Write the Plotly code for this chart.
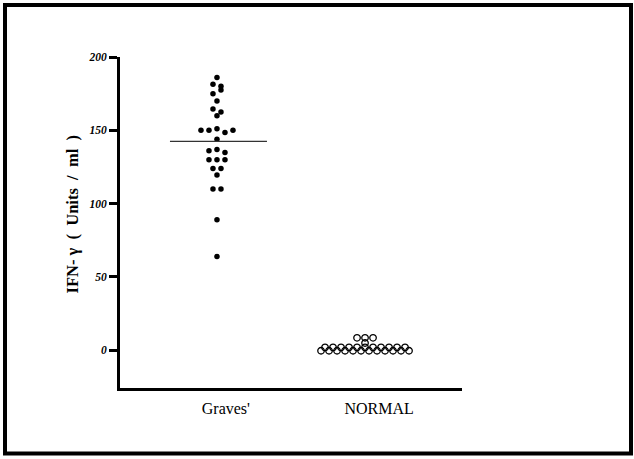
import plotly.graph_objects as go

# ---------------- data ----------------
groups = ["Graves'", "NORMAL"]
graves_values = [186,
                 181.5, 180,
                 175, 177.5,
                 170,
                 164.5, 162.5,
                 160,
                 150, 150, 151, 148.5, 150,
                 144,
                 136, 137, 134.8,
                 130, 130, 130,
                 124, 124,
                 119.5,
                 110, 110,
                 89,
                 64]
normal_values = [8.5, 8.5, 8.5,
                 5,
                 2.0, 2.0, 2.0, 2.0, 2.0, 2.0, 2.0, 2.0, 2.0, 2.0, 2.0,
                 -0.3, -0.3, -0.3, -0.3, -0.3, -0.3, -0.3, -0.3, -0.3, -0.3, -0.3, -0.3]
y_ticks = [0, 50, 100, 150, 200]
y_title = "IFN-\u00a0γ\u00a0\u00a0(\u00a0\u00a0Units\u00a0\u00a0/\u00a0\u00a0ml\u00a0\u00a0)"

# ---------------- layout geometry ----------------
W, H = 634, 459
ML, MR, MT, MB = 120, 172, 57, 71
PW = W - ML - MR
PH = H - MT - MB
x_range = [0.345, 2.655]
y_range = [-25.7, 200]
units_per_px = (x_range[1] - x_range[0]) / PW


def swarm(values, center, bin_height=2.0, spacing_px=8):
    """Prism-like dot layout: rows of nearby values spread symmetrically."""
    order = sorted(range(len(values)), key=lambda i: -values[i])
    xs = [0.0] * len(values)
    rows = []
    for i in order:
        if rows and values[rows[-1][0]] - values[i] <= bin_height:
            rows[-1].append(i)
        else:
            rows.append([i])
    for row in rows:
        row = sorted(row)
        n = len(row)
        for k, i in enumerate(row):
            xs[i] = center + (k - (n - 1) / 2) * spacing_px * units_per_px
    return xs


gx = swarm(graves_values, 1, bin_height=2.6)
nx = swarm(normal_values, 2, bin_height=2.0)
graves_mean = sum(graves_values) / len(graves_values)

fig = go.Figure()
fig.add_trace(go.Scatter(x=gx, y=graves_values, mode="markers",
                         marker=dict(symbol="circle", size=5.5, color="black"),
                         showlegend=False, hoverinfo="skip"))
fig.add_trace(go.Scatter(x=nx, y=normal_values, mode="markers",
                         marker=dict(symbol="circle-open", size=6.5, color="black",
                                     line=dict(width=1.3, color="black")),
                         showlegend=False, hoverinfo="skip"))
fig.add_trace(go.Scatter(x=[1 - 47 * units_per_px, 1 + 50 * units_per_px],
                         y=[graves_mean, graves_mean], mode="lines",
                         line=dict(color="#333333", width=1.4),
                         showlegend=False, hoverinfo="skip"))

fig.update_layout(
    width=W, height=H,
    margin=dict(l=ML, r=MR, t=MT, b=MB),
    paper_bgcolor="white", plot_bgcolor="white",
    font=dict(family="Liberation Serif", color="black"),
    xaxis=dict(range=x_range, showgrid=False, zeroline=False,
               showline=True, linewidth=3, linecolor="black",
               ticks="", tickvals=[1.06, 2.095], ticktext=groups,
               ticklabelstandoff=4,
               tickfont=dict(family="Liberation Serif", size=16, color="black")),
    yaxis=dict(range=y_range, showgrid=False, zeroline=False,
               showline=True, linewidth=3, linecolor="black",
               ticks="outside", ticklen=8, tickwidth=3, tickcolor="black",
               tickvals=y_ticks,
               tickfont=dict(family="Liberation Serif", size=11.5, color="black",
                             style="italic", weight="bold")),
    annotations=[dict(text=y_title, xref="paper", yref="paper",
                      x=(72 - ML) / PW, y=(H - MB - 214.5) / PH,
                      xanchor="center", yanchor="middle",
                      showarrow=False, textangle=-90,
                      font=dict(family="Liberation Serif", size=16.5, color="black",
                                weight="bold"))],
    shapes=[dict(type="rect", xref="paper", yref="paper",
                 x0=(5 - ML) / PW, x1=(631 - ML) / PW,
                 y0=(H - MB - 453.5) / PH, y1=(H - MB - 5) / PH,
                 line=dict(color="black", width=4), fillcolor="rgba(0,0,0,0)")],
)

fig.write_html("out.html")
